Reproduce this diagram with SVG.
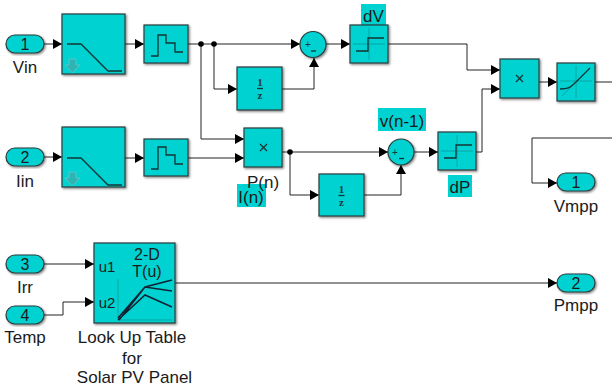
<svg xmlns="http://www.w3.org/2000/svg" width="612" height="390" viewBox="0 0 612 390">
<defs>
<filter id="sh" x="-10%" y="-10%" width="125%" height="125%"><feDropShadow dx="1.2" dy="1.2" stdDeviation="0.8" flood-color="#000" flood-opacity="0.5"/></filter>
<marker id="arr" markerUnits="userSpaceOnUse" markerWidth="10" markerHeight="10" refX="9" refY="5" orient="auto"><path d="M0 0L9 5L0 10Z" fill="#000"/></marker>
</defs>
<style>
.b{fill:#00d2d2;stroke:#2c3c3c;stroke-width:1.2;filter:url(#sh)}
.c{fill:none;stroke:#222;stroke-width:1;marker-end:url(#arr)}
.n{fill:none;stroke:#222;stroke-width:1}
.g{fill:none;stroke:#123434;stroke-width:1.300}
.a{fill:none;stroke:#0a9a9a;stroke-width:0.8}
.t{font-family:"Liberation Sans",Arial,sans-serif;font-size:17px;fill:#1a1a1a;text-anchor:middle}
.m{font-family:"Liberation Sans",Arial,sans-serif;font-size:16px;fill:#1a1a1a;text-anchor:middle}
.z{font-family:"Liberation Serif",serif;font-size:11px;fill:#1a3a3a;text-anchor:middle;font-weight:bold}
.s{font-family:"Liberation Sans",Arial,sans-serif;font-size:10px;fill:#1a3a3a;text-anchor:middle}
.h{fill:#00d2d2}
</style>
<g id="connectors">
<path class="c" d="M44 44H62"/>
<path class="c" d="M125 44H144"/>
<path class="c" d="M188 44H300"/>
<path class="c" d="M214 44V89H237"/>
<path class="c" d="M201 44V139H244"/>
<path class="c" d="M282 89H314V58"/>
<path class="c" d="M326 44H350"/>
<path class="c" d="M388 44H467V70H500"/>
<path class="c" d="M539 82H557"/>
<path class="n" d="M595 82H612"/>
<path class="c" d="M476 152H482V89H500"/>
<path class="c" d="M44 157H62"/>
<path class="c" d="M125 158H144"/>
<path class="c" d="M188 158H244"/>
<path class="c" d="M282 152H388"/>
<path class="c" d="M290 152V195H319"/>
<path class="c" d="M364 195H401V165"/>
<path class="c" d="M414 152H438"/>
<path class="c" d="M612 138H532V183H557"/>
<path class="c" d="M44 264H94"/>
<path class="c" d="M44 315H63V302H94"/>
<path class="c" d="M175 283H557"/>
<circle cx="201" cy="44" r="2.800" fill="#000"/>
<circle cx="214" cy="44" r="2.800" fill="#000"/>
<circle cx="290" cy="152" r="2.800" fill="#000"/>
</g>
<g id="in1"><rect class="b" x="6" y="35" width="38" height="18" rx="9"/><text class="m" x="25" y="50">1</text><text class="t" x="25" y="73">Vin</text></g>
<g id="in2"><rect class="b" x="6" y="148" width="38" height="18" rx="9"/><text class="m" x="25" y="163">2</text><text class="t" x="25" y="187">Iin</text></g>
<g id="in3"><rect class="b" x="6" y="255" width="38" height="18" rx="9"/><text class="m" x="25" y="270">3</text><text class="t" x="25" y="293">Irr</text></g>
<g id="in4"><rect class="b" x="6" y="306" width="38" height="18" rx="9"/><text class="m" x="25" y="321">4</text><text class="t" x="25" y="343">Temp</text></g>
<g id="filter1"><rect class="b" x="62" y="14" width="63" height="60"/><path class="g" d="M67 44H81L108 71H122"/><path d="M69 59H76V65H80L72.500 73L65 65H69Z" fill="#2fb4b4" stroke="#66c8c8" stroke-width="0.800"/></g>
<g id="filter2"><rect class="b" x="62" y="127" width="63" height="60"/><path class="g" d="M67 158H81L108 185H122"/><path d="M69 172H76V178H80L72.500 186L65 178H69Z" fill="#2fb4b4" stroke="#66c8c8" stroke-width="0.800"/></g>
<g id="zoh1"><rect class="b" x="144" y="25" width="44" height="38"/><path class="g" d="M151 56H158V35H166V43H175V52H183"/></g>
<g id="zoh2"><rect class="b" x="144" y="139" width="44" height="37"/><path class="g" d="M151 169H158V147H166V155H175V164H183"/></g>
<g id="delay1"><rect class="b" x="237" y="67" width="45" height="43"/><text class="z" x="260" y="86">1</text><path class="g" d="M257 88.500H263" stroke-width="1"/><text class="z" x="260" y="99">z</text></g>
<g id="delay2"><rect class="b" x="319" y="174" width="45" height="42"/><text class="z" x="341.500" y="193">1</text><path class="g" d="M338.500 195.500H344.500" stroke-width="1"/><text class="z" x="341.500" y="206">z</text></g>
<g id="sum1"><circle class="b" cx="313" cy="44.500" r="13"/><text class="s" x="308" y="48">+</text><path class="g" d="M311 51H316"/></g>
<g id="sum2"><circle class="b" cx="401" cy="152" r="13"/><text class="s" x="395" y="155.500">+</text><path class="g" d="M399 158.500H404"/></g>
<g id="dV"><rect class="h" x="361" y="4" width="25" height="21"/><text class="t" x="373.500" y="22">dV</text><rect class="b" x="350" y="25" width="38" height="38"/><path class="a" d="M369 28V60M353 44H385"/><path class="g" d="M356 51H368V38H384"/></g>
<g id="dP"><rect class="h" x="448" y="175" width="24" height="22"/><text class="t" x="460" y="193">dP</text><rect class="b" x="438" y="132" width="38" height="38"/><path class="a" d="M457 135V167M441 151H473"/><path class="g" d="M444 158H456V145H472"/></g>
<g id="product1"><rect class="b" x="500" y="59" width="39" height="39"/><path class="g" d="M516 75L523 82M523 75L516 82"/></g>
<g id="product2"><rect class="b" x="244" y="128" width="38" height="39"/><path class="g" d="M260 144L267 151M267 144L260 151"/></g>
<g id="sat"><rect class="b" x="557" y="63" width="38" height="38"/><path class="a" d="M576 66V98M560 81H592M562 96L590 68"/><path class="g" d="M560 89C570 89 570 87 576 82L590 68"/></g>
<g id="in"><rect class="h" x="237" y="184" width="29" height="23"/><text class="t" x="251" y="203">I(n)</text></g>
<g id="pn"><text class="t" x="263" y="188">P(n)</text></g>
<g id="vn1"><rect class="h" x="378" y="108" width="48" height="23"/><text class="t" x="402" y="127">v(n-1)</text></g>
<g id="out1"><rect class="b" x="557" y="173" width="38" height="18" rx="9"/><text class="m" x="576" y="188">1</text><text class="t" x="576" y="212">Vmpp</text></g>
<g id="out2"><rect class="b" x="557" y="274" width="38" height="18" rx="9"/><text class="m" x="576" y="289">2</text><text class="t" x="576" y="311">Pmpp</text></g>
<g id="lookup"><rect class="b" x="94" y="243" width="81" height="80"/>
<text class="t" x="107" y="272" style="font-size:15px">u1</text><text class="t" x="107" y="308" style="font-size:15px">u2</text>
<text class="t" x="147" y="260" style="font-size:16px">2-D</text><text class="t" x="147" y="277" style="font-size:16px">T(u)</text>
<path class="a" d="M118 279V320H172"/>
<path d="M118 318L145 287L172 280M119 320L145 287L172 291M118 320L145 295L172 307" fill="none" stroke="#123" stroke-width="1.500"/>
<text class="t" x="132" y="343">Look Up Table</text><text class="t" x="132" y="364">for</text><text class="t" x="134.500" y="383">Solar PV Panel</text></g>
</svg>
